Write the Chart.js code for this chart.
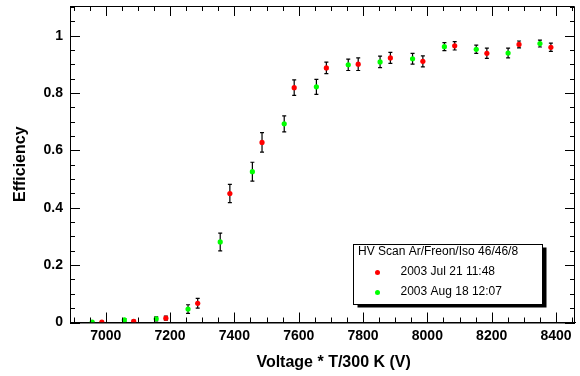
<!DOCTYPE html>
<html>
<head>
<meta charset="utf-8">
<script src="https://cdn.jsdelivr.net/npm/chart.js@4"></script>
<style>
html,body{margin:0;padding:0;background:#fff;}
canvas{display:block;}
</style>
</head>
<body>
<canvas id="hvChart" width="580" height="376"></canvas>
<script>
// ═══════════════ 数据 ═══════════════
var xTicks = [7000,7200,7400,7600,7800,8000,8200,8400];
var yTicks = [0,0.2,0.4,0.6,0.8,1];

// 2003 Jul 21 11:48 (red)
var julVolt = [6988,7087,7187,7286,7386,7486,7586,7686,7785,7885,7986,8085,8185,8285,8384];
var julEff  = [0.001,0.004,0.015,0.067,0.450,0.628,0.819,0.888,0.901,0.923,0.911,0.965,0.939,0.970,0.960];
var julErr  = [0.002,0.004,0.007,0.017,0.032,0.034,0.027,0.020,0.022,0.019,0.019,0.0145,0.018,0.012,0.0145];

// 2003 Aug 18 12:07 (green)
var augVolt = [6958,7058,7157,7256,7356,7456,7555,7655,7754,7853,7954,8053,8152,8251,8350];
var augEff  = [0.001,0.009,0.013,0.047,0.281,0.526,0.693,0.822,0.899,0.909,0.920,0.962,0.953,0.940,0.973];
var augErr  = [0.002,0.005,0.007,0.015,0.031,0.033,0.028,0.026,0.020,0.020,0.019,0.014,0.0145,0.017,0.012];

var legendTitle = 'HV Scan Ar/Freon/Iso 46/46/8';
var seriesNames = ['2003 Jul 21 11:48','2003 Aug 18 12:07'];
var seriesColors = ['#ff0000','#00ff00'];

var FONT = '"Liberation Sans", Arial, Helvetica, sans-serif';

function toPoints(xs, ys, es){
  return xs.map(function(x,i){ return {x:x, y:ys[i], e:es[i]}; });
}

// 去掉 Chart.js 为刻度标签预留的边距
function noScalePad(s){
  s.paddingTop = 0; s.paddingBottom = 0; s.paddingLeft = 0; s.paddingRight = 0;
}

// ═══════════════ 插件: 误差棒 ═══════════════
var errorBars = {
  id:'errorBars',
  beforeDatasetsDraw:function(chart){
    var ctx = chart.ctx, xs = chart.scales.x, ys = chart.scales.y;
    ctx.save();
    ctx.strokeStyle = '#000';
    ctx.lineWidth = 1.2;
    chart.data.datasets.forEach(function(ds){
      ds.data.forEach(function(p){
        var px = xs.getPixelForValue(p.x);
        var y1 = ys.getPixelForValue(p.y + p.e);
        var y2 = ys.getPixelForValue(Math.max(0, p.y - p.e));
        ctx.beginPath();
        ctx.moveTo(px, y1); ctx.lineTo(px, y2);
        ctx.moveTo(px-2, y1); ctx.lineTo(px+2, y1);
        ctx.moveTo(px-2, y2); ctx.lineTo(px+2, y2);
        ctx.stroke();
      });
    });
    ctx.restore();
  }
};

// ═══════════════ 插件: 边框 + 内刻度 ═══════════════
var rootFrame = {
  id:'rootFrame',
  afterDraw:function(chart){
    var ctx = chart.ctx, a = chart.chartArea, xs = chart.scales.x, ys = chart.scales.y;
    ctx.save();
    ctx.strokeStyle = '#000';
    ctx.lineWidth = 1;
    ctx.beginPath();
    ctx.rect(a.left+0.5, a.top+0.5, a.right-a.left-1, a.bottom-a.top);
    ctx.stroke();
    ctx.beginPath();
    var v, px, len;
    for(v=6900; v<=xs.max; v+=50){
      if(v < xs.min) continue;
      px = Math.round(xs.getPixelForValue(v))+0.5;
      len = (v%200===0) ? 10 : 5;
      ctx.moveTo(px, a.bottom); ctx.lineTo(px, a.bottom-len);
      ctx.moveTo(px, a.top); ctx.lineTo(px, a.top+len);
    }
    for(v=0; v<=ys.max+1e-9; v+=0.05){
      var py = Math.round(ys.getPixelForValue(v))+0.5;
      len = (Math.round(v*100)%20===0) ? 10 : 5;
      ctx.moveTo(a.left, py); ctx.lineTo(a.left+len, py);
      ctx.moveTo(a.right, py); ctx.lineTo(a.right-len, py);
    }
    ctx.stroke();
    ctx.restore();
  }
};

// ═══════════════ 插件: 图例 (带阴影) ═══════════════
var rootLegend = {
  id:'rootLegend',
  afterDraw:function(chart){
    var ctx = chart.ctx;
    var bx = 353.5, by = 244.5, bw = 189, bh = 60;
    ctx.save();
    ctx.fillStyle = '#000';
    ctx.fillRect(bx+4, by+3, bw, bh);
    ctx.fillStyle = '#fff';
    ctx.fillRect(bx, by, bw, bh);
    ctx.strokeStyle = '#000';
    ctx.lineWidth = 1;
    ctx.strokeRect(bx, by, bw, bh);
    ctx.fillStyle = '#000';
    ctx.font = '12px ' + FONT;
    ctx.textBaseline = 'middle';
    ctx.textAlign = 'left';
    ctx.fillText(legendTitle, 358, 252);
    seriesNames.forEach(function(name, i){
      var cy = 272 + i*20;
      ctx.fillStyle = seriesColors[i];
      ctx.beginPath();
      ctx.arc(377.5, cy+0.5, 2.5, 0, Math.PI*2);
      ctx.fill();
      ctx.fillStyle = '#000';
      ctx.fillText(name, 400.5, cy);
    });
    ctx.restore();
  }
};

// ═══════════════ 图表 ═══════════════
new Chart(document.getElementById('hvChart'), {
  type:'scatter',
  data:{
    datasets:[
      {label:seriesNames[0], data:toPoints(julVolt, julEff, julErr), backgroundColor:seriesColors[0], borderWidth:0, pointRadius:2.6},
      {label:seriesNames[1], data:toPoints(augVolt, augEff, augErr), backgroundColor:seriesColors[1], borderWidth:0, pointRadius:2.6}
    ]
  },
  options:{
    responsive:false, animation:false, devicePixelRatio:1,
    layout:{padding:{top:6, right:5, left:0, bottom:0}},
    plugins:{legend:{display:false}, tooltip:{enabled:false}},
    scales:{
      x:{
        type:'linear', min:6889, max:8459,
        afterBuildTicks:function(s){ s.ticks = xTicks.map(function(v){return {value:v};}); },
        afterFit:function(s){ s.height = 53.5; noScalePad(s); },
        grid:{display:false, drawTicks:false},
        border:{display:true, color:'#000', width:1},
        ticks:{color:'#000', padding:5, maxRotation:0, font:{family:FONT, size:14, weight:'bold'},
          callback:function(v){ return String(v); }},
        title:{display:true, text:'     Voltage * T/300 K (V)', color:'#000', padding:{top:0, bottom:4}, font:{family:FONT, size:16, weight:'bold'}}
      },
      y:{
        type:'linear', min:0, max:1.104,
        afterBuildTicks:function(s){ s.ticks = yTicks.map(function(v){return {value:v};}); },
        afterFit:function(s){ s.width = 70; noScalePad(s); },
        grid:{display:false, drawTicks:false},
        border:{display:true, color:'#000', width:1},
        ticks:{color:'#000', padding:7, font:{family:FONT, size:14, weight:'bold'},
          callback:function(v){ return String(+(+v).toFixed(1)); }},
        title:{display:true, text:'Efficiency', color:'#000', padding:{top:11, bottom:0}, font:{family:FONT, size:16, weight:'bold'}}
      }
    }
  },
  plugins:[errorBars, rootFrame, rootLegend]
});
</script>
</body>
</html>
